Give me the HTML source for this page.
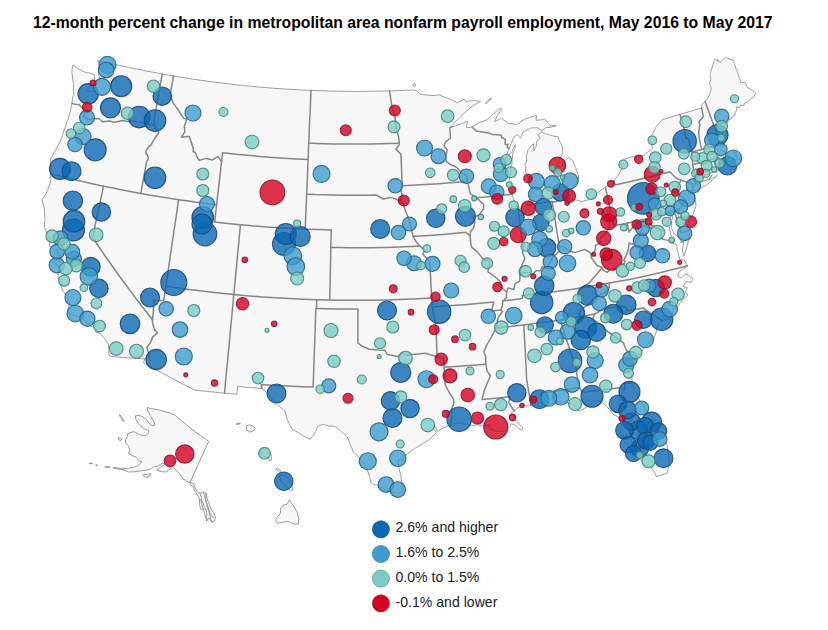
<!DOCTYPE html>
<html><head><meta charset="utf-8"><title>12-month percent change in metropolitan area nonfarm payroll employment</title>
<style>html,body{margin:0;padding:0;background:#fff}body{width:828px;height:630px;overflow:hidden;position:relative;font-family:"Liberation Sans",sans-serif}#t{position:absolute;left:0;top:14px;width:805.6px;text-align:center;font-weight:bold;font-size:15.75px;color:#000;white-space:nowrap;letter-spacing:0px}.lg{position:absolute;left:395.5px;font-size:14.1px;color:#1a1a28;white-space:nowrap}svg{position:absolute;left:0;top:0}.b{stroke-width:1.15;fill-opacity:.8;stroke-opacity:.9}.d{fill:#0a68b4;stroke:#1d4a73}.m{fill:#3d9ccf;stroke:#2a6384}.t{fill:#7bccc4;stroke:#47847d}.r{fill:#d4001f;stroke:#8a1c30}</style></head><body>
<svg width="828" height="630" viewBox="0 0 828 630">
<g fill="#f7f7f7" stroke="#a0a0a0" stroke-width="1" stroke-linejoin="round">
<path d="M73.0 65.0 L77.9 68.5 L85.8 72.6 L90.5 73.3 L94.2 74.7 L94.9 79.1 L88.8 87.4 L87.7 91.9 L92.3 90.9 L94.7 89.7 L96.6 84.0 L99.5 78.4 L98.2 71.1 L99.6 65.2 L97.7 60.4 L108.0 62.8 L118.4 65.2 L128.7 67.4 L139.9 69.7 L151.1 71.9 L162.3 74.0 L173.5 76.0 L182.2 77.4 L190.8 78.8 L199.5 80.1 L208.2 81.3 L219.7 82.8 L231.1 84.2 L242.6 85.4 L254.0 86.6 L265.5 87.6 L277.0 88.5 L288.3 89.2 L299.7 89.9 L311.0 90.4 L319.8 90.7 L328.5 91.0 L337.3 91.2 L346.1 91.3 L357.7 91.4 L369.2 91.3 L379.4 91.1 L389.6 90.9 L397.6 90.6 L405.6 90.3 L413.5 89.9 L416.5 90.6 L419.7 94.0 L428.9 95.3 L434.2 95.5 L439.3 94.8 L445.2 97.6 L450.8 99.4 L457.0 102.8 L464.3 99.3 L465.6 101.4 L474.4 100.5 L480.5 101.4 L471.1 106.9 L460.6 116.6 L456.6 121.0 L451.8 125.6 L453.1 126.8 L462.4 123.4 L467.6 121.2 L466.4 127.4 L472.2 127.3 L479.1 122.6 L484.9 120.7 L489.4 117.9 L493.1 114.0 L499.0 108.9 L502.0 109.1 L497.4 115.2 L494.6 121.7 L501.4 118.2 L508.1 123.4 L514.9 124.2 L517.3 124.4 L524.6 119.0 L530.6 117.2 L536.5 115.4 L536.1 120.2 L541.5 119.8 L544.4 118.8 L548.0 122.6 L550.4 125.7 L556.5 125.5 L551.3 127.3 L545.8 127.7 L541.8 130.7 L537.9 127.8 L531.2 128.0 L523.3 131.8 L520.5 138.3 L517.5 134.4 L514.2 136.6 L509.0 148.7 L507.2 153.3 L505.4 158.8 L508.1 155.8 L511.9 151.8 L515.3 144.7 L514.7 149.6 L512.8 153.4 L512.3 157.0 L511.8 165.0 L510.7 166.0 L510.9 172.1 L509.6 178.4 L510.3 184.9 L512.2 189.9 L512.5 194.1 L512.4 196.4 L516.1 204.3 L517.8 207.1 L520.4 208.4 L525.7 205.9 L526.6 205.0 L529.8 198.6 L531.8 193.0 L531.9 186.3 L528.9 178.8 L525.5 171.9 L525.8 166.5 L524.8 164.7 L526.6 161.1 L526.7 154.4 L528.1 149.5 L533.6 143.4 L533.8 150.9 L536.2 146.5 L536.8 140.8 L540.3 138.8 L537.8 134.8 L541.9 131.9 L545.4 133.6 L553.8 136.2 L558.1 136.7 L559.6 141.5 L561.8 144.9 L562.4 148.3 L562.7 152.3 L561.8 155.5 L559.6 159.7 L557.2 165.1 L558.1 167.1 L562.9 165.0 L564.7 161.1 L568.5 157.4 L572.8 160.5 L575.5 167.5 L578.4 174.9 L578.7 181.6 L574.8 185.0 L572.3 189.0 L572.3 192.6 L569.5 198.8 L579.3 200.5 L579.8 201.9 L586.4 200.3 L592.3 198.6 L596.8 193.1 L602.3 189.4 L605.5 187.3 L610.4 183.3 L614.0 180.4 L618.2 175.3 L622.4 167.8 L619.0 161.5 L625.3 159.1 L631.5 156.7 L636.8 157.2 L644.0 155.3 L649.3 150.5 L652.6 148.3 L651.3 143.2 L648.3 138.9 L652.6 134.1 L656.2 126.6 L661.8 120.1 L664.1 119.1 L672.1 116.8 L680.0 114.4 L690.9 111.2 L701.7 107.9 L701.9 104.4 L705.1 101.6 L707.5 99.0 L710.6 91.6 L711.3 87.8 L709.4 83.8 L711.0 79.3 L710.1 74.5 L714.6 59.2 L717.5 61.1 L717.4 58.8 L719.9 62.5 L725.3 57.4 L733.0 60.0 L736.3 69.2 L739.6 78.4 L740.7 82.4 L745.3 82.6 L747.3 87.4 L749.7 88.6 L754.6 92.1 L755.7 93.2 L753.6 97.1 L750.7 98.6 L748.6 101.4 L745.0 102.9 L743.6 105.7 L740.7 105.0 L739.3 107.9 L736.4 107.1 L736.9 110.7 L734.6 112.9 L735.4 115.0 L732.9 116.4 L730.7 119.3 L728.6 120.0 L727.4 122.9 L723.6 125.8 L724.7 127.1 L723.1 129.6 L722.2 131.8 L722.2 135.8 L721.1 137.3 L721.0 141.0 L724.5 143.8 L721.9 147.4 L721.2 150.4 L723.8 151.1 L727.9 155.6 L730.7 158.0 L733.4 158.1 L735.6 153.7 L732.7 151.8 L734.7 151.6 L738.0 157.5 L738.0 159.7 L733.9 159.6 L730.2 162.8 L728.4 159.1 L726.5 162.5 L724.5 164.9 L723.8 165.9 L722.2 166.4 L719.9 161.3 L719.9 164.5 L720.8 168.7 L716.4 170.9 L713.5 172.0 L703.8 175.8 L700.8 178.5 L695.6 182.9 L694.6 185.2 L693.1 187.1 L692.5 189.1 L692.3 189.9 L690.6 193.6 L693.8 192.9 L694.9 195.7 L696.0 205.4 L693.7 213.1 L688.9 222.3 L688.4 218.0 L682.1 216.5 L679.0 214.6 L677.9 212.7 L678.2 215.7 L682.3 220.9 L682.8 222.6 L687.6 225.3 L689.8 230.7 L689.9 232.9 L688.4 241.1 L686.7 247.9 L683.9 256.4 L682.3 249.9 L683.8 242.3 L681.5 241.6 L678.3 237.4 L673.5 232.3 L671.2 227.5 L671.6 221.9 L672.8 216.2 L671.3 215.7 L667.6 222.6 L669.3 226.7 L670.7 234.8 L674.9 241.9 L670.9 241.1 L665.7 239.7 L672.8 243.3 L676.6 244.5 L677.2 249.4 L678.5 254.5 L679.8 259.6 L684.2 259.9 L687.5 265.8 L679.0 272.0 L677.5 276.0 L681.5 278.0 L686.0 273.5 L689.5 276.0 L693.0 279.0 L691.0 282.5 L686.5 281.5 L683.0 286.5 L687.5 287.5 L685.0 292.5 L688.0 295.0 L684.0 298.5 L680.0 303.0 L678.5 306.0 L673.9 308.0 L670.6 318.7 L662.2 320.5 L658.1 325.2 L655.6 333.8 L654.3 337.7 L647.5 344.0 L642.7 349.5 L641.1 352.5 L638.2 356.3 L636.2 358.9 L634.0 365.2 L631.6 375.8 L632.3 382.9 L634.4 389.9 L637.3 396.5 L644.1 407.5 L653.4 418.8 L654.4 425.7 L659.4 432.1 L660.8 434.9 L665.9 442.7 L667.6 446.7 L668.7 457.1 L669.4 462.7 L668.1 469.5 L667.2 473.2 L656.6 476.6 L655.0 473.1 L650.4 466.1 L644.1 465.2 L642.3 461.6 L638.2 457.1 L634.0 451.8 L629.2 447.4 L626.5 443.5 L624.0 440.5 L626.9 434.7 L624.1 436.9 L620.9 434.9 L620.6 430.2 L621.6 425.1 L619.0 417.6 L613.8 414.5 L611.5 412.0 L606.6 406.3 L602.5 403.0 L596.8 400.4 L593.9 401.5 L592.0 403.9 L587.6 406.4 L583.0 409.4 L577.7 411.1 L578.3 408.4 L576.2 406.5 L571.5 404.0 L563.6 401.3 L559.1 401.5 L548.8 403.8 L544.2 405.3 L541.6 406.1 L536.9 407.1 L538.3 403.9 L537.0 399.7 L535.4 399.4 L535.3 404.3 L535.0 405.8 L530.9 405.2 L528.7 406.0 L523.4 405.8 L520.5 406.6 L517.0 408.3 L514.7 410.6 L513.5 411.3 L510.7 413.3 L514.7 414.7 L513.6 418.3 L516.1 420.6 L519.6 424.6 L523.0 427.7 L521.8 430.4 L518.5 428.2 L515.1 425.1 L511.1 423.8 L509.9 426.5 L509.2 427.5 L506.5 430.4 L499.8 431.9 L494.3 430.7 L489.6 428.6 L489.2 425.1 L481.0 425.9 L477.1 424.4 L474.1 425.9 L464.9 424.0 L458.3 422.9 L450.6 424.7 L442.5 428.3 L437.4 431.6 L436.5 429.0 L434.1 425.7 L433.5 429.2 L436.7 432.5 L432.4 436.5 L429.5 439.3 L419.8 445.5 L413.1 449.7 L404.2 456.5 L403.5 459.4 L398.1 460.1 L399.1 468.7 L400.9 475.6 L402.6 489.8 L402.9 491.7 L397.5 493.4 L388.0 490.4 L385.6 490.1 L376.9 485.2 L373.4 484.8 L371.0 482.2 L369.4 476.2 L365.8 465.9 L365.0 463.8 L361.1 461.0 L359.1 457.6 L356.8 454.7 L353.4 452.1 L350.4 445.1 L348.1 438.2 L343.9 433.8 L341.4 431.7 L334.7 426.4 L327.9 425.8 L323.1 424.3 L317.6 426.6 L315.7 431.5 L312.8 436.1 L310.1 439.5 L304.2 436.4 L300.8 434.2 L291.9 428.9 L287.5 420.0 L284.7 410.3 L277.8 405.1 L269.5 395.5 L262.1 388.4 L249.8 387.5 L237.5 386.5 L236.9 394.3 L224.5 393.2 L214.6 392.2 L204.7 391.2 L194.8 390.1 L181.7 383.4 L168.8 376.6 L155.9 369.7 L143.2 362.7 L145.1 358.9 L133.5 358.2 L121.8 357.3 L110.2 356.4 L108.7 353.7 L108.9 350.5 L108.3 344.2 L104.9 338.9 L100.1 333.2 L95.9 332.2 L95.4 327.5 L91.2 326.6 L87.3 324.1 L85.1 320.6 L80.0 317.2 L69.5 314.1 L67.5 311.3 L69.8 302.0 L67.5 297.1 L63.0 290.8 L58.2 279.2 L58.0 272.3 L60.4 269.9 L57.9 266.6 L53.9 261.5 L53.9 255.7 L55.0 250.9 L56.7 251.0 L59.2 257.0 L58.2 249.5 L55.5 250.1 L49.4 245.6 L50.0 240.3 L44.2 227.2 L44.9 219.2 L44.3 208.2 L41.8 199.6 L45.9 194.1 L47.6 190.1 L50.7 181.8 L50.1 178.0 L51.0 173.8 L50.5 166.4 L50.6 158.5 L55.3 150.5 L60.8 140.2 L64.2 130.0 L66.4 123.7 L68.5 118.0 L70.9 108.8 L72.0 103.1 L72.9 96.7 L74.0 95.2 L73.5 91.5 L73.4 88.0 L73.4 83.5 L72.0 73.3 L72.1 68.5 Z"/>
<path d="M692.7 190.9 L696.4 190.0 L699.5 188.9 L705.4 185.8 L712.0 180.7 L717.6 175.0 L715.0 177.0 L712.5 177.8 L708.5 180.3 L712.3 174.9 L708.9 179.2 L703.1 181.1 L697.9 183.5 L695.3 186.1 L693.2 187.4 Z"/>
<circle cx="414.3" cy="85" r="1.4"/>
<path d="M485.2 103.3 L488 100.3 L491.2 98 L491.6 98.8 L488.6 101.3 L485.8 104 Z"/>
</g>
<g fill="#f7f7f7" stroke="#8e8e8e" stroke-width="0.9" stroke-linejoin="round">
<path d="M147.2 407.5 L151.7 408.7 L158.3 409.7 L165.0 411.7 L170.8 413.0 L175.8 415.8 L180.0 419.7 L186.7 425.0 L195.0 431.7 L203.3 437.5 L208.7 441.3 L190.0 482.5 L187.5 481.7 L182.5 478.3 L180.0 474.2 L176.7 470.8 L173.3 467.5 L170.8 468.3 L168.3 470.0 L166.7 472.0 L161.7 471.7 L156.7 470.3 L160.0 467.5 L163.3 465.8 L165.0 464.2 L162.5 463.0 L158.3 465.8 L154.2 466.7 L151.7 468.3 L147.5 470.0 L141.7 470.8 L135.0 471.7 L128.3 472.0 L123.3 470.0 L122.5 468.3 L128.3 468.3 L133.3 467.5 L137.5 465.8 L140.8 463.3 L141.7 461.7 L138.3 460.8 L136.7 457.5 L132.5 455.8 L130.0 454.2 L128.3 453.3 L130.0 450.0 L128.3 445.8 L125.8 443.3 L125.3 440.0 L127.5 436.7 L127.2 434.2 L130.0 432.5 L134.2 431.7 L137.5 433.3 L140.8 435.0 L145.8 435.8 L148.3 433.3 L148.7 430.3 L145.8 429.7 L142.0 427.5 L138.3 423.3 L135.8 419.2 L135.5 415.8 L139.2 415.3 L144.2 417.5 L146.7 420.0 L149.2 423.3 L152.5 425.8 L155.0 425.0 L154.2 422.5 L151.7 418.3 L149.2 413.3 L147.5 410.0 Z"/>
<path d="M190.0 482.2 L193.9 484.4 L196.7 491.1 L200.0 493.3 L203.3 492.2 L206.1 493.3 L207.2 498.9 L209.4 504.4 L211.1 508.9 L213.9 513.3 L215.6 517.2 L214.4 521.1 L211.7 522.2 L208.9 517.8 L206.7 521.1 L205.0 515.6 L203.3 508.9 L201.1 510.0 L199.4 504.4 L199.4 498.9 L197.8 495.6 L195.0 491.1 L192.8 486.7 L190.0 483.9 Z"/>
<path d="M119.5 414.7 L121.7 416.7 L124.2 421.3 L122.5 420.8 L120.5 417.5 Z"/>
<path d="M118.3 437.5 L121.7 439.2 L120.8 440.8 L118.7 439.7 Z"/>
<path d="M143.0 475.0 L146.7 474.2 L150.8 473.8 L150.0 475.8 L146.7 477.5 L144.2 476.7 Z"/>
<path d="M89.2 463.0 L92.5 463.3 L92.5 463.8 L89.2 463.5 Z"/>
<path d="M95.8 464.7 L97.5 465.0 L97.5 465.5 L95.8 465.2 Z"/>
<path d="M105.0 466.3 L110.0 467.0 L110.0 467.7 L105.0 467.0 Z"/>
<path d="M113.3 467.5 L120.0 468.3 L123.3 470.0 L120.0 469.2 L113.3 468.3 Z"/>
<path d="M236.4 423.7 L240.2 423.0 L240.2 423.7 L236.4 424.5 Z"/>
<path d="M246.0 426.2 L248.8 424.9 L253.2 426.2 L255.1 428.7 L253.2 431.0 L249.8 432.1 L246.9 430.0 Z"/>
<path d="M260.2 451.0 L264.0 449.0 L268.8 452.9 L271.3 454.8 L271.3 460.5 L269.8 461.0 L267.9 457.6 L264.0 456.7 L261.2 454.8 Z"/>
<path d="M275.5 469.0 L277.4 468.1 L281.2 471.3 L279.9 472.5 Z"/>
<path d="M279.3 475.7 L284.0 474.8 L288.8 478.6 L292.0 486.2 L292.6 490.0 L289.8 490.4 L286.0 486.2 L281.2 482.4 Z"/>
<path d="M289.4 499.9 L291.7 503.3 L294.0 506.2 L297.4 512.9 L298.9 519.5 L298.3 524.3 L292.6 523.7 L287.9 521.4 L282.1 522.4 L277.4 523.3 L275.5 520.1 L277.4 516.7 L280.2 513.8 L280.8 508.1 L283.1 505.2 L286.9 504.3 Z"/>
<path fill="none" d="M200.0 493.3 L201.7 497.8 L201.1 502.2 L203.3 508.9"/>
<path fill="none" d="M203.3 492.2 L205.0 497.8 L206.7 504.4 L208.3 510.0 L210.0 515.6 L211.7 522.2"/>
<path fill="none" d="M206.1 493.3 L205.6 498.9 L207.8 506.7 L211.1 515.6 L213.9 517.8"/>
<path fill="none" d="M199.4 498.9 L202.2 501.1 L204.4 506.7 L206.7 512.2 L206.7 521.1"/>
</g>
<g fill="none" stroke="#868686" stroke-width="1.5" stroke-linejoin="round" stroke-linecap="round">
<path d="M72.0 103.1 L74.2 104.2 L79.1 104.6 L81.0 106.8 L84.2 108.9 L84.4 113.0 L84.0 116.5 L89.1 119.5 L94.3 118.6 L99.2 118.8 L102.6 121.7 L109.3 120.9 L114.6 122.3 L122.4 120.4 L129.6 121.7 L130.1 120.5 L138.2 122.1 L146.3 123.7 L154.5 125.2"/>
<path d="M162.2 74.0 L159.6 88.5 L157.0 103.1 L154.4 117.7 L154.5 125.2"/>
<path d="M154.5 125.2 L155.7 128.0 L158.1 130.2 L158.8 133.0 L155.4 137.3 L152.2 142.7 L151.2 145.0 L149.1 146.2 L146.2 150.5 L145.9 153.6 L147.5 155.1 L148.4 158.5 L147.0 161.4 L146.4 162.6 L143.6 178.0 L140.8 193.5"/>
<path d="M173.5 76.0 L172.0 84.6 L170.6 93.2 L171.0 97.3 L173.1 102.9 L179.0 110.9 L180.4 113.4 L183.8 118.6 L186.8 119.1 L184.4 126.6 L184.8 131.9 L181.6 137.2 L189.1 136.2 L190.4 139.8 L193.4 149.0 L193.1 151.5 L195.2 152.5 L197.7 158.3 L199.3 160.3 L206.4 158.4 L212.4 159.9 L216.9 157.1 L218.1 156.6 L221.6 161.7"/>
<path d="M222.6 152.7 L220.6 170.0 L218.6 187.3 L216.6 204.7 L214.6 222.0"/>
<path d="M222.6 152.7 L231.9 153.7 L241.2 154.7 L250.5 155.6 L259.8 156.4 L272.0 157.4 L284.2 158.2 L296.2 158.9 L308.1 159.4"/>
<path d="M311.0 90.4 L310.3 107.6 L309.5 124.8 L308.8 142.1 L308.1 159.4 L307.4 176.8 L306.7 194.2 L305.9 211.7 L305.2 229.2"/>
<path d="M308.8 143.1 L317.0 143.4 L325.3 143.7 L333.5 143.9 L345.6 144.1 L357.7 144.1 L369.8 144.0 L381.9 143.8 L390.6 143.6 L399.3 143.3"/>
<path d="M306.7 194.2 L315.3 194.6 L323.9 194.8 L332.5 195.0 L345.1 195.2 L357.8 195.3 L367.2 195.2 L376.7 195.1 L383.1 199.0 L390.7 197.4 L395.8 199.0 L399.6 201.1 L402.9 203.3"/>
<path d="M214.6 222.0 L227.5 223.5 L240.4 224.8 L249.3 225.6 L258.1 226.3 L266.9 227.0 L279.9 227.8 L292.9 228.6 L305.2 229.2 L318.2 229.6 L331.2 230.0"/>
<path d="M51.0 173.8 L60.2 176.1 L69.3 178.4 L78.5 180.6 L91.0 183.4 L103.5 186.2 L112.9 188.1 L122.3 190.0 L131.6 191.8 L140.8 193.5 L150.5 195.2 L160.1 196.8 L169.4 198.3 L178.6 199.7 L188.4 201.1 L198.2 202.4 L207.4 203.6 L216.6 204.7"/>
<path d="M103.5 186.2 L99.9 203.3 L96.2 220.4 L92.6 237.5 L102.0 251.4 L111.6 265.2 L121.5 279.0 L131.6 292.6 L141.9 306.2 L152.5 319.7"/>
<path d="M178.6 199.7 L176.1 217.0 L173.5 234.3 L170.9 251.6 L168.4 269.0 L165.8 286.3"/>
<path d="M165.8 286.3 L163.7 300.3 L159.4 300.6 L153.9 300.4 L153.3 311.0 L152.5 319.7"/>
<path d="M152.5 319.7 L152.7 323.8 L154.7 329.8 L157.5 332.9 L152.7 336.9 L150.4 342.7 L146.9 347.2 L149.0 354.6 L149.0 357.2 L145.1 358.9"/>
<path d="M165.8 286.3 L175.1 287.6 L184.3 288.9 L193.6 290.1 L203.8 291.3 L214.0 292.5 L223.9 293.5 L233.8 294.5 L243.2 295.4 L252.5 296.2 L261.9 296.9 L275.6 297.8 L289.3 298.6 L303.0 299.2 L316.7 299.7 L329.7 300.0 L339.1 300.2 L348.5 300.3 L357.9 300.3 L371.6 300.2 L385.3 300.0 L399.0 299.6 L412.8 299.1 L422.2 298.6 L431.7 298.1"/>
<path d="M240.4 224.8 L238.8 242.2 L237.1 259.6 L235.5 277.1 L233.8 294.5"/>
<path d="M233.8 294.5 L232.3 311.0 L230.7 327.5 L229.2 343.9 L227.6 360.4 L226.0 376.8 L224.5 393.2"/>
<path d="M331.2 230.0 L330.8 247.5 L330.5 265.0 L330.1 282.5 L329.7 300.0"/>
<path d="M330.8 247.5 L339.8 247.6 L348.8 247.7 L357.8 247.7 L371.0 247.7 L384.2 247.4 L394.0 247.2 L403.9 246.8 L411.8 246.5 L419.7 246.1"/>
<path d="M316.7 299.7 L316.4 308.5 L315.9 308.4 L315.3 324.2 L314.8 339.9 L314.2 355.7 L313.7 371.4 L313.1 387.1 L302.6 386.7 L292.1 386.3 L281.7 385.7 L271.4 385.2 L261.1 384.5 L262.1 388.4"/>
<path d="M316.4 308.5 L326.8 308.7 L337.2 308.9 L347.5 309.0 L357.9 309.1 L357.9 326.1 L357.9 343.0 L362.2 346.2 L369.3 349.3 L377.9 350.0 L385.0 350.3 L387.2 354.6 L398.0 356.6 L402.2 352.9 L406.6 354.9 L415.1 354.2 L425.1 353.2 L437.1 356.7"/>
<path d="M437.1 356.7 L436.5 341.4 L436.0 326.0 L434.1 316.4 L432.2 306.9 L431.7 298.1 L431.0 285.9 L430.4 273.6 L429.7 261.4 L425.6 257.2 L422.8 253.9 L425.2 250.2 L419.7 246.1"/>
<path d="M437.1 356.7 L443.5 357.9 L444.1 367.2 L444.6 376.1 L445.2 384.9 L449.2 392.5 L453.3 398.7 L453.9 402.7 L451.8 408.9 L452.1 417.6 L450.6 424.7"/>
<path d="M444.1 367.2 L455.2 366.5 L466.3 365.7 L476.0 365.0 L485.8 364.2"/>
<path d="M432.2 306.9 L441.9 306.3 L451.7 305.6 L461.4 304.9 L472.2 304.0 L483.0 303.0 L493.8 301.9 L491.6 310.9 L500.9 309.9"/>
<path d="M510.0 396.8 L496.0 398.3 L482.0 399.6 L484.5 389.7 L488.7 379.7 L490.5 375.7 L487.1 371.1 L485.8 364.2 L485.8 357.2 L483.9 352.1 L486.8 344.8 L491.3 337.3 L494.7 330.8 L497.0 326.2 L497.2 320.9 L498.8 316.3 L502.5 311.5 L500.9 309.9 L502.5 305.3 L502.7 300.9 L504.0 299.9 L506.5 297.8 L506.5 292.0 L501.1 287.0 L500.5 281.8 L495.2 277.0 L487.9 271.7 L489.5 264.8 L489.4 260.4 L484.6 259.7 L481.7 257.3 L477.1 251.6 L472.1 247.7 L470.8 243.7 L470.1 235.9 L470.6 231.5 L473.6 228.2 L474.9 221.9 L472.9 217.3 L479.1 215.0 L482.2 210.6 L483.6 208.7 L483.5 204.3 L476.6 197.8 L470.3 193.7 L469.2 189.1 L467.6 181.4 L466.8 176.2 L461.4 172.3 L456.2 167.0 L449.8 164.2 L446.2 161.3 L445.8 156.1 L447.2 149.9 L444.0 145.8 L445.4 142.2 L450.5 138.0 L449.8 127.8 L452.5 126.5"/>
<path d="M510.0 396.8 L508.8 402.7 L512.5 408.8 L514.7 410.6"/>
<path d="M413.1 236.3 L424.6 235.7 L436.2 235.0 L445.9 234.2 L455.7 233.3 L465.7 232.2 L470.1 235.9"/>
<path d="M402.2 185.7 L411.3 185.3 L420.4 184.8 L429.8 184.3 L439.1 183.7 L446.6 183.1 L454.1 182.5 L460.9 182.0 L467.6 181.4"/>
<path d="M402.9 203.3 L400.5 199.4 L402.3 195.3 L400.8 190.1 L402.2 185.7 L401.6 170.0 L401.0 154.4 L396.0 149.3 L399.1 144.9 L399.3 143.3 L398.6 137.1 L396.0 127.2 L394.8 114.8 L392.5 109.2 L390.8 99.4 L389.6 90.9"/>
<path d="M402.9 203.3 L405.8 211.7 L407.9 216.9 L410.6 224.7 L411.8 231.6 L413.1 236.3 L416.2 241.9 L419.7 246.1"/>
<path d="M476.6 197.8 L485.0 197.1 L493.5 196.2 L503.0 195.2 L512.5 194.1"/>
<path d="M472.2 127.3 L476.2 130.9 L482.5 132.0 L488.9 133.0 L492.8 134.6 L497.4 134.7 L501.2 135.3 L501.8 137.7 L505.3 139.2 L505.2 144.6 L507.9 144.4 L507.2 147.1 L509.0 148.7"/>
<path d="M520.0 275.9 L519.1 271.6 L520.2 268.8 L522.3 264.1 L524.9 258.5 L522.5 252.6 L523.1 248.1 L521.3 234.4 L519.6 220.8 L517.8 207.1"/>
<path d="M552.2 202.2 L554.6 217.2 L557.0 232.2 L559.5 247.2"/>
<path d="M526.6 205.0 L539.3 203.2 L552.0 201.2 L552.2 202.2 L560.8 200.5 L569.5 198.8"/>
<path d="M605.5 187.3 L607.9 198.8 L610.3 210.3"/>
<path d="M610.3 210.3 L609.5 214.8 L609.8 220.6 L609.4 226.9 L605.9 233.4 L601.8 236.5 L599.8 239.9 L600.3 242.9 L595.4 245.3 L595.5 249.7 L592.8 253.4 L590.9 254.1 L589.9 252.5 L584.6 249.4 L574.9 252.6 L568.5 251.0 L563.7 246.5 L559.5 247.2 L559.6 250.7 L555.6 254.9 L552.8 254.8 L552.6 258.0 L549.4 263.5 L547.4 268.5 L542.4 266.6 L540.3 271.0 L536.1 270.5 L532.5 274.6 L525.8 272.1 L521.5 273.9 L520.0 275.9 L519.7 281.2 L515.2 283.6 L513.8 289.4 L508.1 287.9 L506.5 292.0"/>
<path d="M503.8 300.8 L513.2 299.7 L522.6 298.5 L522.2 295.4 L532.8 294.3 L543.4 293.0 L553.7 291.8 L564.0 290.5 L573.0 289.2 L582.0 287.8 L595.6 285.4 L609.2 282.9 L620.6 281.0 L632.0 279.0 L645.5 276.0 L659.0 272.9 L668.5 270.6 L678.0 268.2 L687.5 265.8"/>
<path d="M609.2 282.9 L609.3 287.2 L605.7 292.0 L598.6 295.5 L594.6 297.1 L590.6 302.3 L587.6 305.1 L581.2 309.3 L578.2 316.9"/>
<path d="M594.7 314.0 L586.3 315.6 L577.9 317.1 L569.1 318.6 L560.2 320.1 L550.4 321.4 L540.6 322.6 L532.2 323.8 L523.8 324.9 L514.0 326.0 L504.2 327.2 L494.4 328.2"/>
<path d="M594.7 314.0 L604.6 308.6 L613.7 307.3 L622.9 305.9 L623.2 307.8 L624.5 306.5 L627.2 308.8 L627.3 310.9 L635.1 309.5 L642.9 308.0 L652.5 314.3 L662.2 320.5"/>
<path d="M594.7 314.0 L592.6 319.2 L597.9 322.8 L600.8 324.3 L604.9 329.4 L611.7 334.7 L615.9 337.3 L623.6 343.2 L626.1 349.8 L630.5 355.2 L632.7 358.7 L636.2 358.9"/>
<path d="M632.3 382.9 L624.7 383.0 L624.7 390.6 L621.7 387.6 L612.1 388.8 L602.5 389.9 L592.5 391.1 L582.4 392.3"/>
<path d="M582.4 392.3 L579.5 387.4 L577.3 378.1 L575.9 365.1 L571.8 355.7 L567.9 343.8 L564.0 332.0 L560.2 320.1"/>
<path d="M579.5 387.4 L570.0 388.9 L560.4 390.4 L550.9 391.7 L541.4 393.0 L541.3 395.7 L545.1 398.7 L544.8 402.2 L544.2 405.3"/>
<path d="M523.8 324.9 L524.5 338.4 L525.3 352.0 L526.0 365.5 L526.6 379.1 L528.8 392.2 L530.9 405.2"/>
<path d="M590.9 254.1 L591.6 258.1 L595.3 263.1 L597.2 265.8 L602.1 267.4 L598.4 272.3 L593.6 277.7 L589.2 282.9 L582.0 287.8"/>
<path d="M602.1 267.4 L603.2 270.2 L607.2 272.4 L610.9 269.2 L613.1 270.5 L617.3 266.3 L621.3 264.7 L624.5 263.2 L625.1 261.1 L623.8 260.3 L627.1 253.5 L628.3 248.9 L629.1 243.0 L631.4 244.1 L635.0 243.7 L636.0 239.5 L638.7 237.8 L643.0 225.5 L650.8 228.3 L651.4 224.8"/>
<path d="M651.4 224.8 L648.6 220.4 L643.9 219.7 L641.0 223.1 L636.7 222.3 L633.6 226.2 L629.0 232.1 L627.1 223.2"/>
<path d="M627.1 223.2 L620.4 224.6 L613.6 226.1 L610.3 210.3"/>
<path d="M627.1 223.2 L639.9 220.3 L652.6 217.3 L663.6 214.6 L674.5 211.8 L676.4 209.1 L678.9 209.1"/>
<path d="M674.5 211.8 L677.9 222.3 L681.3 232.8 L689.8 230.7"/>
<path d="M651.4 224.8 L655.2 227.8 L661.8 229.8 L660.5 238.3 L665.0 239.9"/>
<path d="M680.9 242.1 L689.1 238.5"/>
<path d="M677.9 212.7 L678.9 209.1 L682.2 206.5 L685.6 200.1 L680.0 195.3 L677.6 193.2 L677.3 188.4 L680.9 180.3 L675.4 177.5 L669.9 171.7 L659.7 174.4 L649.4 177.0 L640.1 179.2 L630.7 181.4 L622.9 183.2 L615.0 185.0 L614.0 180.4"/>
<path d="M680.9 180.3 L692.6 183.6 L692.5 189.1"/>
<path d="M695.6 182.9 L694.2 181.3 L696.8 178.6 L695.5 177.3 L692.6 164.5 L691.9 152.0 L688.3 138.5 L686.2 138.2 L683.9 128.0 L680.0 114.4"/>
<path d="M692.6 164.5 L703.1 161.7 L713.5 158.9 L718.6 157.3 L719.2 159.3 L720.5 161.1"/>
<path d="M713.5 158.9 L716.7 169.2 L716.4 170.9"/>
<path d="M720.5 161.1 L722.5 161.9 L724.5 164.9"/>
<path d="M691.9 152.0 L701.8 149.4 L709.0 147.5 L716.1 145.6 L716.5 144.8 L718.8 141.6 L721.0 141.0"/>
<path d="M701.8 149.4 L700.6 144.9 L699.2 138.0 L698.7 131.8 L699.9 125.1 L699.1 121.7 L703.2 116.8 L701.7 107.9"/>
<path d="M721.1 137.3 L716.4 133.3 L715.3 129.4 L710.2 115.5 L705.1 101.6"/>
</g>
<g class="b">
<circle class="d" cx="643.3" cy="198.3" r="15.8"/>
<circle class="d" cx="173.8" cy="282.5" r="13.0"/>
<circle class="r" cx="272.4" cy="192.4" r="12.4"/>
<circle class="d" cx="459.2" cy="419.2" r="12.2"/>
<circle class="r" cx="495.8" cy="427.0" r="12.0"/>
<circle class="d" cx="205.0" cy="234.0" r="11.8"/>
<circle class="d" cx="570.0" cy="360.8" r="11.8"/>
<circle class="d" cx="684.7" cy="141.2" r="11.7"/>
<circle class="d" cx="439.2" cy="311.7" r="11.7"/>
<circle class="d" cx="284.0" cy="244.0" r="11.5"/>
<circle class="d" cx="661.7" cy="319.2" r="11.2"/>
<circle class="d" cx="541.7" cy="302.5" r="11.2"/>
<circle class="d" cx="95.2" cy="149.8" r="11.0"/>
<circle class="d" cx="73.5" cy="229.9" r="11.0"/>
<circle class="d" cx="592.0" cy="396.2" r="11.0"/>
<circle class="d" cx="573.8" cy="313.3" r="10.8"/>
<circle class="d" cx="585.8" cy="327.5" r="10.8"/>
<circle class="d" cx="74.0" cy="221.2" r="10.8"/>
<circle class="d" cx="202.8" cy="217.3" r="10.8"/>
<circle class="d" cx="139.2" cy="117.0" r="10.8"/>
<circle class="d" cx="155.0" cy="120.5" r="10.8"/>
<circle class="d" cx="155.0" cy="177.8" r="10.8"/>
<circle class="d" cx="121.2" cy="86.2" r="10.5"/>
<circle class="d" cx="60.0" cy="168.8" r="10.5"/>
<circle class="d" cx="285.8" cy="234.0" r="10.5"/>
<circle class="d" cx="629.5" cy="391.8" r="10.5"/>
<circle class="d" cx="717.5" cy="135.0" r="10.5"/>
<circle class="r" cx="611.7" cy="259.7" r="10.3"/>
<circle class="d" cx="88.2" cy="93.8" r="10.2"/>
<circle class="d" cx="156.2" cy="359.5" r="10.2"/>
<circle class="d" cx="110.5" cy="107.8" r="10.0"/>
<circle class="d" cx="202.0" cy="224.0" r="10.0"/>
<circle class="d" cx="300.2" cy="236.5" r="10.0"/>
<circle class="d" cx="400.8" cy="372.5" r="10.0"/>
<circle class="d" cx="651.6" cy="422.1" r="10.0"/>
<circle class="d" cx="465.5" cy="216.3" r="10.0"/>
<circle class="d" cx="587.5" cy="295.3" r="10.0"/>
<circle class="d" cx="130.0" cy="323.8" r="9.8"/>
<circle class="d" cx="72.9" cy="200.7" r="9.7"/>
<circle class="d" cx="544.2" cy="285.8" r="9.7"/>
<circle class="d" cx="626.3" cy="304.7" r="9.7"/>
<circle class="d" cx="580.8" cy="340.0" r="9.7"/>
<circle class="d" cx="71.5" cy="171.2" r="9.5"/>
<circle class="d" cx="150.0" cy="297.5" r="9.5"/>
<circle class="d" cx="380.2" cy="229.0" r="9.5"/>
<circle class="d" cx="387.0" cy="310.5" r="9.5"/>
<circle class="d" cx="392.5" cy="418.0" r="9.5"/>
<circle class="d" cx="276.5" cy="393.5" r="9.5"/>
<circle class="d" cx="539.5" cy="399.2" r="9.5"/>
<circle class="d" cx="613.3" cy="313.7" r="9.5"/>
<circle class="d" cx="90.8" cy="266.8" r="9.4"/>
<circle class="d" cx="638.4" cy="430.3" r="9.4"/>
<circle class="d" cx="663.5" cy="458.2" r="9.4"/>
<circle class="d" cx="162.2" cy="96.2" r="9.2"/>
<circle class="r" cx="184.8" cy="454.0" r="9.2"/>
<circle class="d" cx="283.8" cy="481.2" r="9.2"/>
<circle class="d" cx="390.5" cy="400.8" r="9.2"/>
<circle class="d" cx="410.0" cy="408.5" r="9.2"/>
<circle class="d" cx="516.8" cy="392.8" r="9.2"/>
<circle class="d" cx="101.4" cy="212.0" r="9.2"/>
<circle class="d" cx="98.9" cy="288.4" r="9.2"/>
<circle class="d" cx="435.8" cy="218.3" r="9.2"/>
<circle class="d" cx="515.0" cy="217.5" r="9.2"/>
<circle class="d" cx="546.7" cy="247.5" r="9.2"/>
<circle class="d" cx="596.7" cy="332.2" r="9.2"/>
<circle class="d" cx="727.5" cy="165.8" r="9.2"/>
<circle class="m" cx="379.0" cy="431.8" r="9.0"/>
<circle class="d" cx="639.6" cy="448.5" r="9.0"/>
<circle class="m" cx="88.9" cy="276.4" r="8.8"/>
<circle class="d" cx="631.5" cy="421.5" r="8.8"/>
<circle class="d" cx="624.5" cy="430.3" r="8.8"/>
<circle class="m" cx="292.8" cy="255.8" r="8.8"/>
<circle class="m" cx="295.8" cy="266.5" r="8.8"/>
<circle class="d" cx="618.0" cy="403.8" r="8.8"/>
<circle class="d" cx="627.5" cy="410.0" r="8.8"/>
<circle class="d" cx="655.8" cy="288.0" r="8.7"/>
<circle class="d" cx="643.3" cy="319.7" r="8.7"/>
<circle class="d" cx="560.4" cy="192.4" r="8.6"/>
<circle class="m" cx="107.5" cy="64.8" r="8.5"/>
<circle class="m" cx="102.0" cy="86.8" r="8.5"/>
<circle class="m" cx="183.8" cy="356.5" r="8.5"/>
<circle class="m" cx="321.5" cy="173.8" r="8.5"/>
<circle class="m" cx="426.5" cy="379.2" r="8.5"/>
<circle class="m" cx="367.8" cy="461.2" r="8.5"/>
<circle class="d" cx="645.0" cy="426.0" r="8.5"/>
<circle class="d" cx="646.0" cy="440.5" r="8.5"/>
<circle class="d" cx="543.3" cy="206.7" r="8.3"/>
<circle class="d" cx="540.8" cy="222.5" r="8.3"/>
<circle class="m" cx="686.7" cy="198.3" r="8.3"/>
<circle class="m" cx="567.5" cy="263.3" r="8.3"/>
<circle class="d" cx="647.5" cy="253.3" r="8.3"/>
<circle class="m" cx="733.3" cy="158.3" r="8.3"/>
<circle class="m" cx="513.7" cy="315.5" r="8.3"/>
<circle class="d" cx="545.0" cy="325.0" r="8.3"/>
<circle class="m" cx="75.3" cy="313.5" r="8.3"/>
<circle class="r" cx="557.4" cy="165.4" r="8.3"/>
<circle class="m" cx="397.8" cy="458.2" r="8.2"/>
<circle class="m" cx="560.8" cy="396.8" r="8.2"/>
<circle class="d" cx="658.5" cy="430.9" r="8.2"/>
<circle class="d" cx="628.3" cy="444.7" r="8.2"/>
<circle class="m" cx="83.0" cy="136.5" r="8.0"/>
<circle class="m" cx="193.0" cy="113.0" r="8.0"/>
<circle class="m" cx="72.9" cy="297.5" r="8.0"/>
<circle class="m" cx="424.5" cy="148.0" r="8.0"/>
<circle class="m" cx="548.8" cy="398.2" r="8.0"/>
<circle class="m" cx="595.2" cy="360.5" r="8.0"/>
<circle class="d" cx="633.5" cy="453.5" r="8.0"/>
<circle class="r" cx="518.3" cy="234.7" r="8.0"/>
<circle class="m" cx="528.3" cy="227.0" r="8.0"/>
<circle class="r" cx="608.7" cy="221.7" r="8.0"/>
<circle class="r" cx="652.2" cy="174.2" r="8.0"/>
<circle class="m" cx="645.5" cy="339.7" r="8.0"/>
<circle class="m" cx="536.4" cy="181.4" r="8.0"/>
<circle class="m" cx="552.3" cy="183.6" r="8.0"/>
<circle class="m" cx="570.0" cy="180.7" r="8.0"/>
<circle class="m" cx="539.5" cy="239.2" r="7.8"/>
<circle class="m" cx="669.7" cy="309.2" r="7.8"/>
<circle class="m" cx="106.2" cy="70.0" r="7.8"/>
<circle class="m" cx="180.0" cy="329.5" r="7.8"/>
<circle class="m" cx="386.0" cy="484.5" r="7.8"/>
<circle class="m" cx="397.8" cy="489.5" r="7.8"/>
<circle class="m" cx="572.0" cy="384.5" r="7.8"/>
<circle class="m" cx="590.0" cy="375.2" r="7.8"/>
<circle class="m" cx="56.8" cy="265.2" r="7.7"/>
<circle class="m" cx="73.8" cy="258.8" r="7.6"/>
<circle class="m" cx="87.4" cy="318.7" r="7.6"/>
<circle class="m" cx="500.7" cy="174.1" r="7.5"/>
<circle class="m" cx="488.8" cy="186.4" r="7.5"/>
<circle class="m" cx="87.0" cy="117.5" r="7.5"/>
<circle class="m" cx="60.6" cy="238.4" r="7.5"/>
<circle class="m" cx="207.0" cy="204.0" r="7.5"/>
<circle class="m" cx="438.5" cy="156.2" r="7.5"/>
<circle class="m" cx="414.0" cy="263.2" r="7.5"/>
<circle class="m" cx="626.2" cy="365.0" r="7.5"/>
<circle class="d" cx="650.3" cy="442.8" r="7.5"/>
<circle class="m" cx="535.0" cy="249.2" r="7.5"/>
<circle class="m" cx="432.5" cy="263.8" r="7.5"/>
<circle class="m" cx="451.2" cy="290.5" r="7.5"/>
<circle class="r" cx="609.2" cy="214.2" r="7.5"/>
<circle class="m" cx="640.8" cy="240.8" r="7.5"/>
<circle class="m" cx="567.5" cy="331.7" r="7.5"/>
<circle class="m" cx="555.8" cy="337.5" r="7.5"/>
<circle class="m" cx="72.3" cy="251.8" r="7.4"/>
<circle class="m" cx="630.0" cy="358.8" r="7.4"/>
<circle class="m" cx="57.1" cy="251.6" r="7.3"/>
<circle class="m" cx="659.7" cy="439.0" r="7.3"/>
<circle class="m" cx="75.0" cy="144.5" r="7.2"/>
<circle class="m" cx="166.2" cy="308.8" r="7.2"/>
<circle class="m" cx="395.2" cy="185.8" r="7.2"/>
<circle class="m" cx="398.5" cy="232.5" r="7.2"/>
<circle class="m" cx="404.0" cy="258.2" r="7.2"/>
<circle class="m" cx="466.5" cy="176.2" r="7.2"/>
<circle class="m" cx="496.8" cy="192.2" r="7.2"/>
<circle class="m" cx="535.5" cy="194.4" r="7.2"/>
<circle class="r" cx="528.3" cy="208.3" r="7.2"/>
<circle class="m" cx="564.7" cy="246.7" r="7.2"/>
<circle class="m" cx="550.3" cy="261.7" r="7.2"/>
<circle class="m" cx="583.3" cy="227.8" r="7.2"/>
<circle class="r" cx="603.7" cy="238.3" r="7.2"/>
<circle class="t" cx="657.5" cy="232.5" r="7.2"/>
<circle class="m" cx="684.7" cy="233.3" r="7.2"/>
<circle class="m" cx="662.5" cy="255.8" r="7.2"/>
<circle class="m" cx="599.2" cy="303.3" r="7.2"/>
<circle class="m" cx="721.7" cy="116.3" r="7.2"/>
<circle class="m" cx="711.7" cy="140.3" r="7.2"/>
<circle class="m" cx="693.3" cy="185.8" r="7.2"/>
<circle class="m" cx="488.3" cy="316.3" r="7.2"/>
<circle class="t" cx="136.5" cy="351.2" r="7.0"/>
<circle class="t" cx="331.0" cy="330.5" r="7.0"/>
<circle class="m" cx="409.5" cy="224.0" r="7.0"/>
<circle class="m" cx="328.8" cy="385.8" r="7.0"/>
<circle class="r" cx="450.0" cy="375.8" r="7.0"/>
<circle class="m" cx="641.8" cy="408.0" r="7.0"/>
<circle class="m" cx="548.3" cy="273.3" r="7.0"/>
<circle class="m" cx="680.8" cy="206.7" r="7.0"/>
<circle class="m" cx="642.5" cy="228.3" r="7.0"/>
<circle class="t" cx="96.2" cy="234.8" r="6.8"/>
<circle class="t" cx="116.2" cy="348.5" r="6.8"/>
<circle class="t" cx="252.0" cy="142.0" r="6.8"/>
<circle class="t" cx="405.5" cy="358.0" r="6.8"/>
<circle class="r" cx="467.8" cy="395.0" r="6.8"/>
<circle class="t" cx="427.8" cy="425.0" r="6.8"/>
<circle class="t" cx="534.5" cy="355.8" r="6.8"/>
<circle class="m" cx="636.7" cy="252.5" r="6.7"/>
<circle class="m" cx="601.7" cy="290.3" r="6.7"/>
<circle class="m" cx="649.2" cy="285.8" r="6.7"/>
<circle class="r" cx="664.7" cy="282.5" r="6.7"/>
<circle class="t" cx="501.3" cy="327.5" r="6.7"/>
<circle class="t" cx="483.5" cy="155.3" r="6.5"/>
<circle class="m" cx="499.7" cy="164.0" r="6.5"/>
<circle class="r" cx="569.0" cy="195.9" r="6.5"/>
<circle class="t" cx="297.2" cy="278.5" r="6.5"/>
<circle class="t" cx="575.0" cy="404.0" r="6.5"/>
<circle class="t" cx="648.5" cy="461.3" r="6.5"/>
<circle class="r" cx="464.8" cy="156.2" r="6.5"/>
<circle class="t" cx="464.7" cy="205.8" r="6.3"/>
<circle class="m" cx="654.7" cy="204.2" r="6.3"/>
<circle class="r" cx="606.3" cy="254.2" r="6.3"/>
<circle class="t" cx="622.5" cy="270.8" r="6.3"/>
<circle class="t" cx="615.0" cy="295.8" r="6.3"/>
<circle class="m" cx="561.7" cy="317.5" r="6.3"/>
<circle class="m" cx="720.8" cy="149.5" r="6.3"/>
<circle class="t" cx="64.0" cy="244.0" r="6.3"/>
<circle class="t" cx="76.2" cy="265.6" r="6.3"/>
<circle class="t" cx="65.9" cy="268.5" r="6.3"/>
<circle class="t" cx="447.6" cy="116.2" r="6.3"/>
<circle class="t" cx="153.5" cy="86.2" r="6.2"/>
<circle class="t" cx="127.5" cy="113.2" r="6.2"/>
<circle class="r" cx="242.5" cy="303.8" r="6.2"/>
<circle class="t" cx="334.0" cy="361.2" r="6.2"/>
<circle class="r" cx="441.2" cy="359.2" r="6.2"/>
<circle class="t" cx="500.8" cy="404.5" r="6.2"/>
<circle class="t" cx="605.8" cy="386.2" r="6.2"/>
<circle class="t" cx="593.0" cy="352.0" r="6.2"/>
<circle class="t" cx="635.8" cy="352.5" r="6.2"/>
<circle class="t" cx="548.3" cy="193.0" r="6.2"/>
<circle class="t" cx="52.1" cy="236.1" r="6.2"/>
<circle class="t" cx="549.3" cy="215.0" r="6.2"/>
<circle class="t" cx="678.0" cy="294.2" r="6.2"/>
<circle class="t" cx="202.8" cy="174.0" r="6.0"/>
<circle class="t" cx="202.8" cy="190.5" r="6.0"/>
<circle class="t" cx="193.8" cy="310.5" r="6.0"/>
<circle class="t" cx="394.0" cy="126.8" r="6.0"/>
<circle class="t" cx="392.8" cy="327.0" r="6.0"/>
<circle class="t" cx="400.8" cy="396.8" r="6.0"/>
<circle class="r" cx="477.5" cy="418.0" r="6.0"/>
<circle class="t" cx="493.7" cy="243.3" r="6.0"/>
<circle class="t" cx="525.5" cy="271.2" r="5.8"/>
<circle class="t" cx="655.3" cy="157.5" r="5.8"/>
<circle class="t" cx="654.5" cy="167.5" r="5.8"/>
<circle class="t" cx="684.2" cy="168.8" r="5.8"/>
<circle class="r" cx="651.7" cy="188.7" r="5.8"/>
<circle class="t" cx="674.7" cy="187.0" r="5.8"/>
<circle class="t" cx="670.0" cy="200.0" r="5.8"/>
<circle class="t" cx="655.8" cy="214.2" r="5.8"/>
<circle class="r" cx="690.8" cy="221.7" r="5.8"/>
<circle class="t" cx="637.5" cy="287.5" r="5.8"/>
<circle class="t" cx="644.2" cy="285.5" r="5.8"/>
<circle class="t" cx="721.7" cy="126.2" r="5.8"/>
<circle class="t" cx="685.8" cy="121.7" r="5.8"/>
<circle class="t" cx="702.8" cy="158.3" r="5.8"/>
<circle class="t" cx="465.0" cy="335.0" r="5.8"/>
<circle class="t" cx="79.2" cy="128.0" r="5.8"/>
<circle class="t" cx="99.5" cy="326.0" r="5.8"/>
<circle class="r" cx="170.0" cy="460.8" r="5.8"/>
<circle class="t" cx="264.5" cy="453.2" r="5.8"/>
<circle class="t" cx="258.0" cy="378.0" r="5.8"/>
<circle class="t" cx="546.8" cy="349.0" r="5.8"/>
<circle class="t" cx="453.2" cy="175.0" r="5.8"/>
<circle class="t" cx="511.0" cy="172.2" r="5.5"/>
<circle class="t" cx="64.1" cy="280.6" r="5.5"/>
<circle class="r" cx="345.8" cy="130.2" r="5.5"/>
<circle class="r" cx="394.8" cy="110.5" r="5.5"/>
<circle class="r" cx="403.8" cy="200.5" r="5.5"/>
<circle class="t" cx="380.0" cy="343.2" r="5.5"/>
<circle class="r" cx="497.2" cy="198.7" r="5.5"/>
<circle class="t" cx="503.7" cy="231.3" r="5.5"/>
<circle class="t" cx="563.8" cy="216.7" r="5.5"/>
<circle class="t" cx="528.8" cy="293.3" r="5.5"/>
<circle class="t" cx="487.2" cy="263.3" r="5.5"/>
<circle class="t" cx="460.5" cy="260.8" r="5.5"/>
<circle class="t" cx="640.0" cy="263.0" r="5.5"/>
<circle class="t" cx="666.3" cy="148.7" r="5.5"/>
<circle class="t" cx="709.2" cy="149.5" r="5.5"/>
<circle class="t" cx="706.7" cy="165.8" r="5.5"/>
<circle class="t" cx="96.4" cy="303.4" r="5.4"/>
<circle class="t" cx="506.2" cy="159.9" r="5.4"/>
<circle class="t" cx="464.2" cy="267.2" r="5.3"/>
<circle class="t" cx="591.3" cy="194.2" r="5.3"/>
<circle class="t" cx="626.7" cy="324.5" r="5.3"/>
<circle class="t" cx="615.8" cy="337.8" r="5.3"/>
<circle class="t" cx="683.8" cy="153.8" r="5.3"/>
<circle class="t" cx="712.0" cy="156.7" r="5.3"/>
<circle class="t" cx="540.3" cy="332.2" r="5.3"/>
<circle class="r" cx="348.0" cy="398.2" r="5.0"/>
<circle class="t" cx="628.5" cy="373.2" r="5.0"/>
<circle class="t" cx="441.7" cy="208.8" r="5.0"/>
<circle class="t" cx="494.5" cy="226.2" r="5.0"/>
<circle class="t" cx="660.8" cy="191.7" r="5.0"/>
<circle class="m" cx="670.0" cy="210.8" r="5.0"/>
<circle class="t" cx="680.8" cy="221.7" r="5.0"/>
<circle class="t" cx="605.5" cy="317.8" r="5.0"/>
<circle class="r" cx="637.0" cy="325.3" r="5.0"/>
<circle class="t" cx="571.2" cy="321.7" r="5.0"/>
<circle class="r" cx="434.2" cy="329.7" r="5.0"/>
<circle class="r" cx="87.2" cy="107.2" r="4.8"/>
<circle class="t" cx="71.0" cy="133.5" r="4.8"/>
<circle class="t" cx="430.2" cy="172.8" r="4.8"/>
<circle class="t" cx="555.5" cy="367.0" r="4.8"/>
<circle class="t" cx="513.7" cy="205.5" r="4.7"/>
<circle class="r" cx="497.5" cy="287.0" r="4.7"/>
<circle class="r" cx="435.5" cy="296.7" r="4.7"/>
<circle class="r" cx="636.7" cy="224.5" r="4.7"/>
<circle class="t" cx="719.7" cy="163.3" r="4.7"/>
<circle class="t" cx="498.6" cy="167.9" r="4.6"/>
<circle class="t" cx="223.5" cy="112.0" r="4.5"/>
<circle class="t" cx="361.8" cy="379.5" r="4.5"/>
<circle class="r" cx="433.2" cy="379.2" r="4.5"/>
<circle class="t" cx="525.5" cy="246.7" r="4.5"/>
<circle class="r" cx="584.5" cy="213.3" r="4.5"/>
<circle class="r" cx="608.0" cy="200.0" r="4.5"/>
<circle class="t" cx="623.3" cy="164.5" r="4.5"/>
<circle class="t" cx="666.7" cy="221.7" r="4.5"/>
<circle class="t" cx="577.5" cy="298.7" r="4.5"/>
<circle class="r" cx="664.2" cy="293.7" r="4.5"/>
<circle class="t" cx="695.3" cy="156.7" r="4.5"/>
<circle class="r" cx="528.0" cy="178.5" r="4.3"/>
<circle class="t" cx="652.3" cy="140.3" r="4.3"/>
<circle class="t" cx="421.0" cy="265.5" r="4.2"/>
<circle class="t" cx="320.2" cy="389.2" r="4.2"/>
<circle class="t" cx="577.0" cy="362.5" r="4.2"/>
<circle class="r" cx="503.7" cy="241.7" r="4.2"/>
<circle class="t" cx="620.5" cy="212.0" r="4.2"/>
<circle class="r" cx="638.7" cy="159.2" r="4.2"/>
<circle class="t" cx="661.7" cy="211.7" r="4.2"/>
<circle class="t" cx="685.0" cy="215.8" r="4.2"/>
<circle class="t" cx="630.3" cy="266.3" r="4.2"/>
<circle class="t" cx="673.7" cy="301.7" r="4.2"/>
<circle class="t" cx="695.8" cy="173.3" r="4.2"/>
<circle class="t" cx="705.8" cy="173.3" r="4.2"/>
<circle class="t" cx="699.2" cy="177.8" r="4.2"/>
<circle class="r" cx="393.2" cy="288.8" r="4.0"/>
<circle class="t" cx="470.0" cy="371.0" r="4.0"/>
<circle class="t" cx="500.2" cy="374.5" r="4.0"/>
<circle class="t" cx="490.0" cy="406.2" r="4.0"/>
<circle class="t" cx="400.2" cy="444.0" r="4.0"/>
<circle class="t" cx="734.5" cy="98.7" r="4.0"/>
<circle class="t" cx="557.7" cy="172.4" r="3.9"/>
<circle class="t" cx="566.3" cy="233.0" r="3.8"/>
<circle class="r" cx="652.0" cy="302.0" r="3.8"/>
<circle class="t" cx="83.9" cy="287.7" r="3.8"/>
<circle class="t" cx="426.8" cy="248.5" r="3.8"/>
<circle class="r" cx="675.3" cy="192.5" r="3.7"/>
<circle class="t" cx="721.2" cy="137.8" r="3.7"/>
<circle class="r" cx="512.3" cy="189.8" r="3.6"/>
<circle class="t" cx="297.2" cy="223.5" r="3.5"/>
<circle class="r" cx="445.8" cy="413.8" r="3.5"/>
<circle class="r" cx="533.2" cy="399.5" r="3.5"/>
<circle class="t" cx="639.6" cy="455.1" r="3.4"/>
<circle class="t" cx="453.3" cy="199.2" r="3.3"/>
<circle class="t" cx="549.2" cy="228.8" r="3.3"/>
<circle class="r" cx="610.8" cy="183.8" r="3.3"/>
<circle class="t" cx="623.8" cy="227.5" r="3.3"/>
<circle class="t" cx="663.3" cy="203.3" r="3.3"/>
<circle class="t" cx="634.2" cy="207.5" r="3.3"/>
<circle class="r" cx="639.2" cy="206.7" r="3.3"/>
<circle class="r" cx="648.7" cy="221.7" r="3.3"/>
<circle class="t" cx="560.0" cy="341.3" r="3.3"/>
<circle class="r" cx="700.2" cy="171.7" r="3.3"/>
<circle class="r" cx="455.0" cy="339.2" r="3.3"/>
<circle class="r" cx="472.5" cy="346.7" r="3.3"/>
<circle class="r" cx="214.5" cy="383.0" r="3.2"/>
<circle class="r" cx="512.5" cy="417.5" r="3.2"/>
<circle class="r" cx="93.0" cy="83.0" r="3.0"/>
<circle class="r" cx="622.0" cy="418.2" r="3.0"/>
<circle class="r" cx="600.3" cy="211.2" r="3.0"/>
<circle class="t" cx="509.4" cy="184.6" r="2.9"/>
<circle class="t" cx="552.3" cy="168.0" r="2.9"/>
<circle class="t" cx="571.2" cy="230.8" r="2.8"/>
<circle class="t" cx="671.7" cy="240.0" r="2.8"/>
<circle class="r" cx="599.2" cy="285.0" r="2.8"/>
<circle class="t" cx="714.2" cy="169.5" r="2.8"/>
<circle class="t" cx="530.8" cy="327.5" r="2.8"/>
<circle class="r" cx="244.8" cy="259.8" r="2.8"/>
<circle class="r" cx="274.2" cy="323.8" r="2.8"/>
<circle class="r" cx="411.0" cy="312.2" r="2.8"/>
<circle class="t" cx="480.8" cy="217.0" r="2.7"/>
<circle class="t" cx="474.2" cy="198.3" r="2.5"/>
<circle class="r" cx="533.3" cy="276.2" r="2.5"/>
<circle class="r" cx="504.5" cy="278.7" r="2.5"/>
<circle class="r" cx="649.2" cy="214.7" r="2.5"/>
<circle class="r" cx="629.2" cy="288.3" r="2.5"/>
<circle class="r" cx="555.8" cy="192.0" r="2.5"/>
<circle class="r" cx="522.0" cy="405.5" r="2.2"/>
<circle class="t" cx="562.5" cy="177.3" r="2.2"/>
<circle class="r" cx="567.1" cy="203.1" r="2.2"/>
<circle class="r" cx="185.8" cy="374.8" r="2.0"/>
<circle class="t" cx="267.0" cy="330.2" r="2.0"/>
<circle class="t" cx="379.2" cy="356.5" r="2.0"/>
<circle class="r" cx="598.3" cy="203.8" r="2.0"/>
<circle class="r" cx="666.3" cy="185.0" r="2.0"/>
<circle class="r" cx="593.7" cy="254.2" r="2.0"/>
<circle class="r" cx="679.7" cy="262.2" r="2.0"/>
<circle class="r" cx="661.3" cy="171.2" r="1.7"/>
</g>
<g stroke-width="1">
<circle cx="380.9" cy="529.3" r="8.6" fill="#0a68b4" stroke="#1d4a73" stroke-opacity=".55"/>
<circle cx="380.9" cy="554.0" r="8.6" fill="#3d9ccf" stroke="#2a6384" stroke-opacity=".55"/>
<circle cx="380.9" cy="578.6" r="8.6" fill="#7bccc4" stroke="#47847d" stroke-opacity=".55"/>
<circle cx="380.9" cy="603.3" r="8.6" fill="#d60022" stroke="#8a1c30" stroke-opacity=".55"/>
</g>
</svg>
<div id="t">12-month percent change in metropolitan area nonfarm payroll employment, May 2016 to May 2017</div>
<div class="lg" style="top:519.1px">2.6% and higher</div>
<div class="lg" style="top:543.9px">1.6% to 2.5%</div>
<div class="lg" style="top:568.7px">0.0% to 1.5%</div>
<div class="lg" style="top:593.5px">-0.1% and lower</div>
</body></html>
